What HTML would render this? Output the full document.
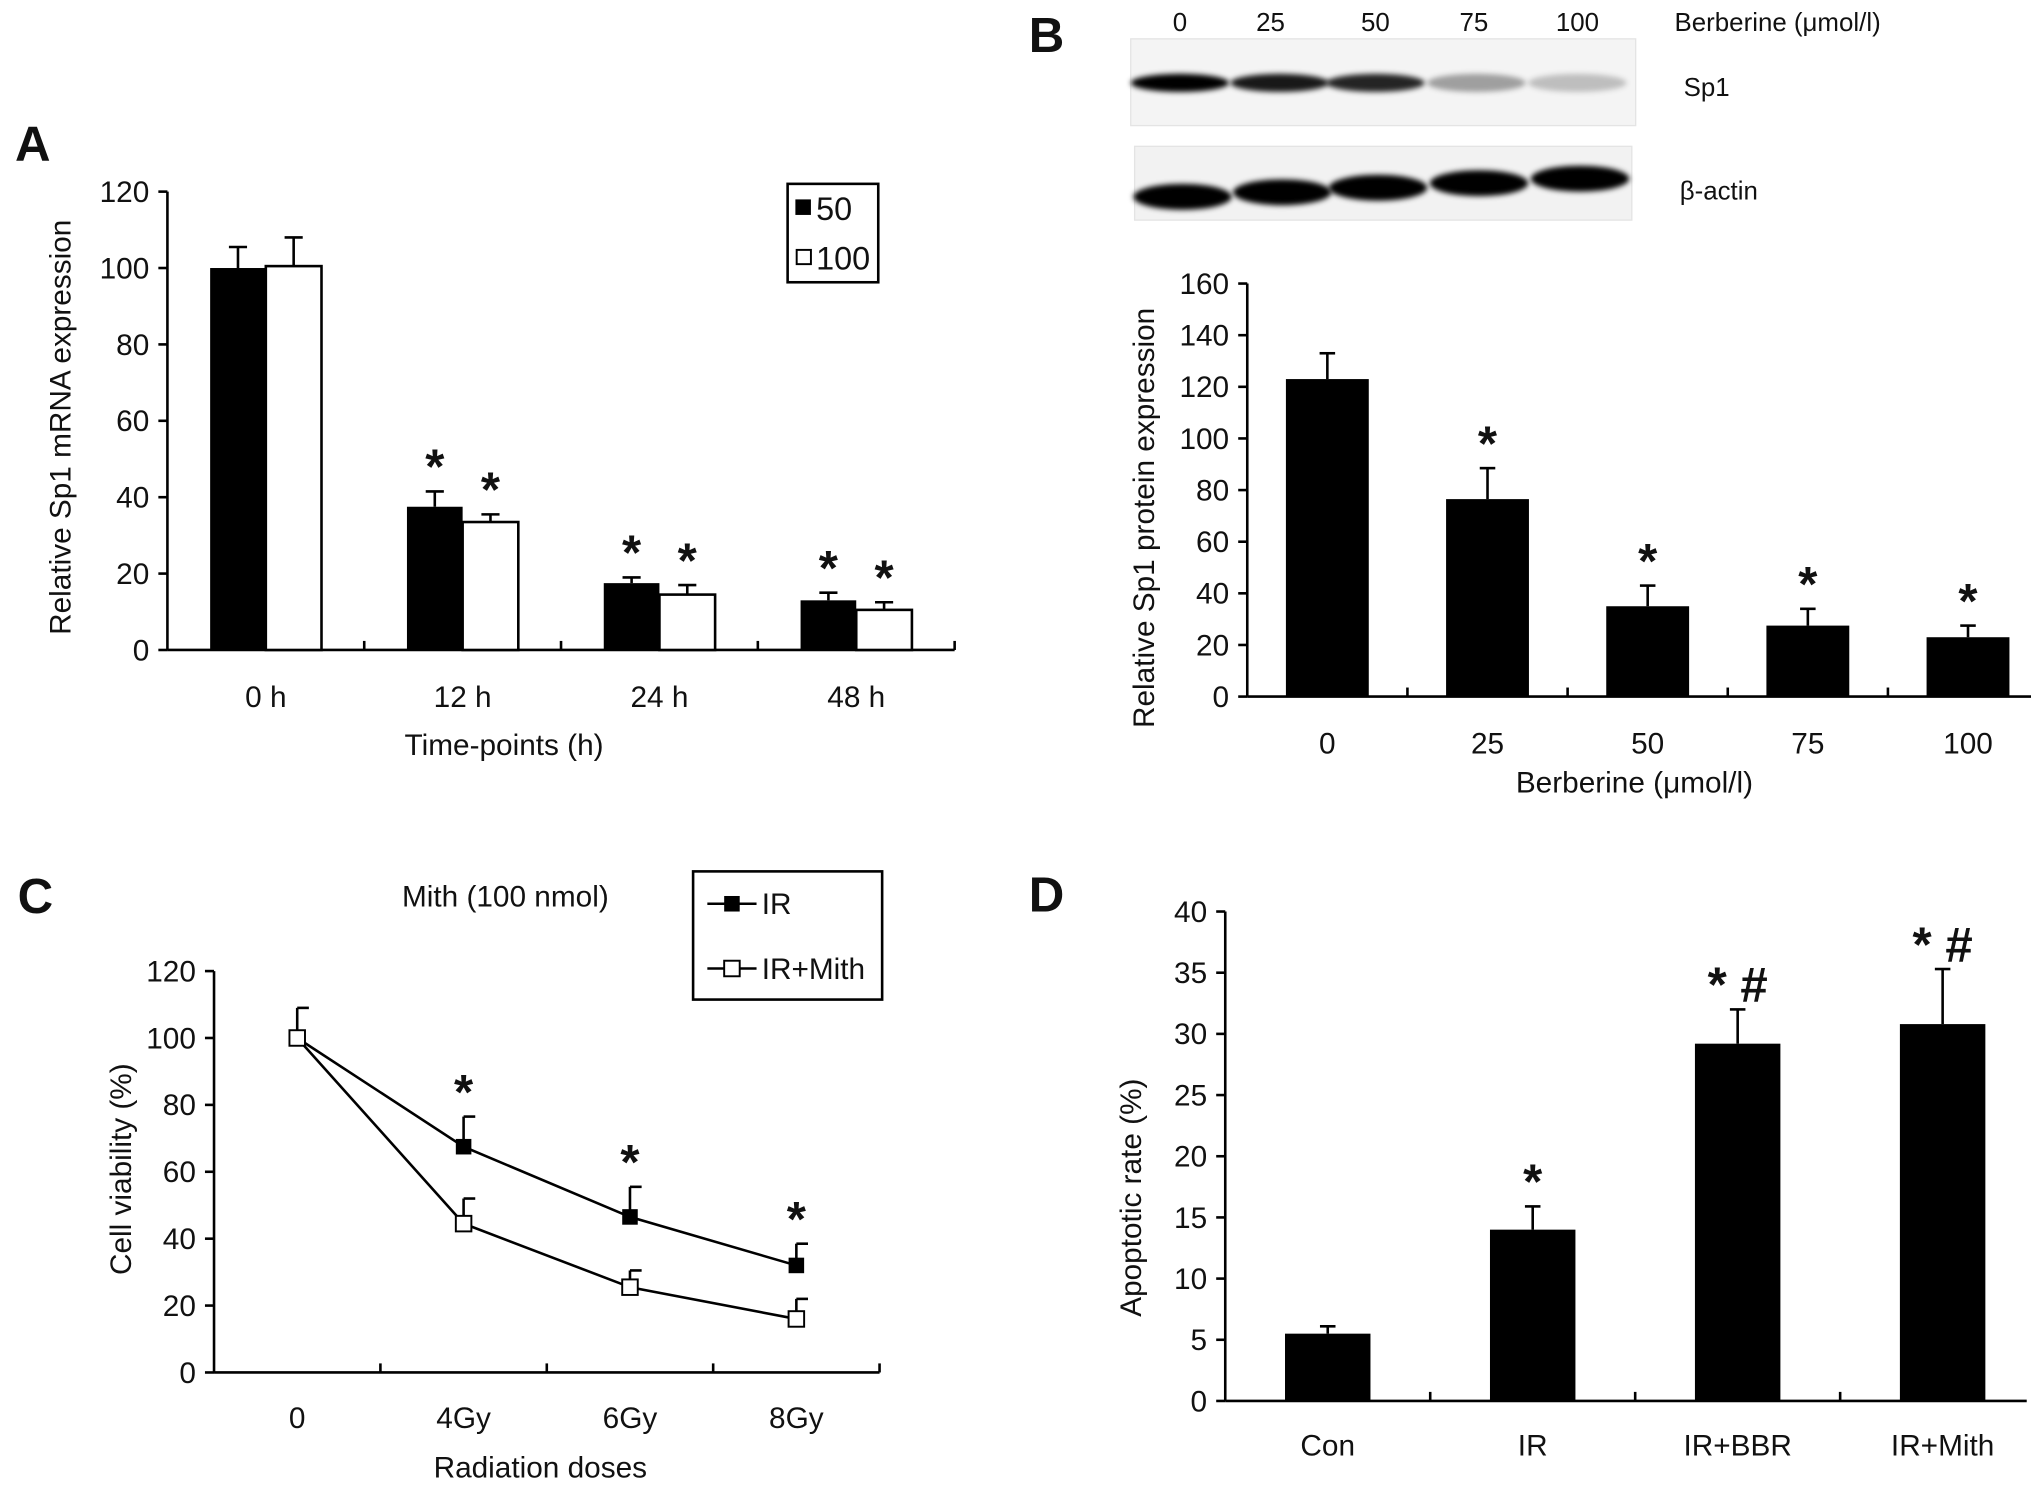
<!DOCTYPE html>
<html><head><meta charset="utf-8"><style>
html,body{margin:0;padding:0;background:#fff}
svg{display:block}
text{font-family:"Liberation Sans",sans-serif;fill:#111}
</style></head><body>
<svg id="fig" width="2031" height="1489" viewBox="0 0 1568 1150">
<defs><filter id="blur" x="-20%" y="-50%" width="140%" height="200%"><feGaussianBlur stdDeviation="2"/></filter></defs>
<g id="gA"></g>
<g id="gB"></g>
<g id="gC"></g>
<g id="gD"></g>
</svg>
<script>
// Panel A data
const catsA=["0  h","12  h","24  h","48  h"];
const valA50=[100,37.5,17.5,13];
const errA50=[5.5,4,1.5,2];
const valA100=[100.5,33.5,14.5,10.5];
const errA100=[7.5,2,2.5,2];
const ticksA=[0,20,40,60,80,100,120];
const sigA50=[false,true,true,true];
const sigA100=[false,true,true,true];
// Panel B data
const catsB=["0","25","50","75","100"];
const valB=[123,76.5,35,27.5,23];
const errB=[10,12,8,6.5,4.5];
const ticksB=[0,20,40,60,80,100,120,140,160];
const sigB=[false,true,true,true,true];
// Panel C data
const catsC=["0","4Gy","6Gy","8Gy"];
const valIR=[100,67.5,46.5,32];
const errIR=[9,9,9,6.5];
const valMith=[100,44.5,25.5,16];
const errMith=[0,7.5,5,6];
const ticksC=[0,20,40,60,80,100,120];
const sigC=[false,true,true,true];
// Panel D data
const catsD=["Con","IR","IR+BBR","IR+Mith"];
const valD=[5.5,14,29.2,30.8];
const errD=[0.6,1.9,2.8,4.5];
const ticksD=[0,5,10,15,20,25,30,35,40];
const sigD=["","*","*  #","*  #"];

const NS="http://www.w3.org/2000/svg";
const FS=23;
function el(p,tag,attrs,txt){const e=document.createElementNS(NS,tag);for(const k in attrs)e.setAttribute(k,attrs[k]);if(txt!==undefined)e.textContent=txt;p.appendChild(e);return e;}
function line(p,x1,y1,x2,y2,w){return el(p,'line',{x1,y1,x2,y2,stroke:'#000','stroke-width':w||2});}
function txt(p,x,y,s,size,anchor,extra){const a=Object.assign({x,y,'font-size':size,'text-anchor':anchor||'middle'},extra||{});return el(p,'text',a,s);}
function star(g,x,y,s){const t=txt(g,x,y-6,s||'*',38,'middle',{'font-weight':'bold','xml:space':'preserve'});return t;}

function axes(g,x0,y0,xEnd,yTop,ticks,yOf,nCat,step,name){
  const ax=line(g,x0,y0,xEnd,y0);
  
  
  const ay=line(g,x0,y0,x0,yTop);
  
  
  ticks.forEach(t=>{const y=yOf(t);line(g,x0-7,y,x0,y);
    const l=txt(g,x0-14,y+8,String(t),FS,'end');
    
    });
  for(let i=1;i<=nCat;i++){const x=x0+i*step;line(g,x,y0,x,y0-7);}
}

// ---------- Panel A ----------
(function(){
const g=document.getElementById('gA');
const x0=129,y0=502,yTop=148,step=152,max=120;
const y=v=>y0-(v/max)*(y0-yTop);
const lab=txt(g,25,124,'A',38,'middle',{'font-weight':'bold'});

axes(g,x0,y0,x0+step*catsA.length,yTop,ticksA,y,catsA.length,step,'a');
const bw=43;
catsA.forEach((c,i)=>{const cx=x0+step*(i+0.5);
  const b1=el(g,'rect',{x:cx-bw,y:y(valA50[i]),width:bw,height:y0-y(valA50[i]),fill:'#000'});
  
  line(g,cx-bw/2,y(valA50[i]),cx-bw/2,y(valA50[i]+errA50[i]));line(g,cx-bw/2-7,y(valA50[i]+errA50[i]),cx-bw/2+7,y(valA50[i]+errA50[i]));
  const b2=el(g,'rect',{x:cx,y:y(valA100[i]),width:bw,height:y0-y(valA100[i]),fill:'#fff',stroke:'#000','stroke-width':2});
  
  line(g,cx+bw/2,y(valA100[i]),cx+bw/2,y(valA100[i]+errA100[i]));line(g,cx+bw/2-7,y(valA100[i]+errA100[i]),cx+bw/2+7,y(valA100[i]+errA100[i]));
  if(sigA50[i])star(g,cx-bw/2,y(valA50[i]+errA50[i]));
  if(sigA100[i])star(g,cx+bw/2,y(valA100[i]+errA100[i]));
  const t=txt(g,cx,546,c,FS,'middle',{'xml:space':'preserve'});
});
const xt=txt(g,389,583,'Time-points (h)',FS);
const yt=txt(g,0,0,'Relative Sp1 mRNA expression',FS,'middle',{transform:'translate(54,330) rotate(-90)'});

const lg=el(g,'g',{});
el(lg,'rect',{x:608,y:142,width:70,height:76,fill:'#fff',stroke:'#000','stroke-width':2});
el(lg,'rect',{x:614,y:154,width:12,height:12,fill:'#000'});
txt(lg,630,170,'50',25,'start');
el(lg,'rect',{x:615,y:193,width:11,height:11,fill:'#fff',stroke:'#000','stroke-width':1.5});
txt(lg,630,208,'100',25,'start');
})();

// ---------- Panel B ----------
(function(){
const g=document.getElementById('gB');
const x0=963,y0=538,yTop=219,step=123.7,max=160;
const y=v=>y0-(v/max)*(y0-yTop);
const lab=txt(g,808,40,'B',38,'middle',{'font-weight':'bold'});

const blot=el(g,'g',{});
el(blot,'rect',{x:873,y:30,width:390,height:67,fill:'#f4f4f4',stroke:'#e4e4e4'});
el(blot,'rect',{x:876,y:113,width:384,height:57,fill:'#f2f2f2',stroke:'#e4e4e4'});
const sp1Int=[1,0.9,0.85,0.35,0.22];
const bx=[911,988,1062,1140,1218];
bx.forEach((x,i)=>{el(blot,'ellipse',{cx:x,cy:64,rx:38,ry:7,fill:'#000','fill-opacity':sp1Int[i],filter:'url(#blur)'});
  el(blot,'ellipse',{cx:x+2,cy:152-i*3.5,rx:38,ry:10,fill:'#000',filter:'url(#blur)'});});
catsB.forEach((c,i)=>{txt(g,[911,981,1062,1138,1218][i],24,c,20);});
txt(g,1293,24,'Berberine (μmol/l)',20,'start');
txt(g,1300,74,'Sp1',20,'start');
txt(g,1297,154,'β-actin',20,'start');
axes(g,x0,y0,x0+step*catsB.length,yTop,ticksB,y,catsB.length,step,'b');
const bw=64;
catsB.forEach((c,i)=>{const cx=x0+step*(i+0.5);
  const b=el(g,'rect',{x:cx-bw/2,y:y(valB[i]),width:bw,height:y0-y(valB[i]),fill:'#000'});
  
  line(g,cx,y(valB[i]),cx,y(valB[i]+errB[i]));line(g,cx-6,y(valB[i]+errB[i]),cx+6,y(valB[i]+errB[i]));
  if(sigB[i])star(g,cx,y(valB[i]+errB[i]));
  const t=txt(g,cx,582,c,FS);
});
const xt=txt(g,1262,612,'Berberine (μmol/l)',FS);
const yt=txt(g,0,0,'Relative Sp1 protein expression',FS,'middle',{transform:'translate(891,400) rotate(-90)'});

})();

// ---------- Panel C ----------
(function(){
const g=document.getElementById('gC');
const x0=165,y0=1060,yTop=750,step=128.5,max=120;
const y=v=>y0-(v/max)*(y0-yTop);
const lab=txt(g,27,705,'C',38,'middle',{'font-weight':'bold'});

axes(g,x0,y0,x0+step*catsC.length,yTop,ticksC,y,catsC.length,step,'c');
const X=i=>x0+step*(i+0.5);
catsC.forEach((c,i)=>{
  if(errIR[i]>0){line(g,X(i),y(valIR[i]),X(i),y(valIR[i]+errIR[i]));line(g,X(i),y(valIR[i]+errIR[i]),X(i)+9,y(valIR[i]+errIR[i]));}
  if(errMith[i]>0){line(g,X(i),y(valMith[i]),X(i),y(valMith[i]+errMith[i]));line(g,X(i),y(valMith[i]+errMith[i]),X(i)+9,y(valMith[i]+errMith[i]));}
});
const l1=el(g,'polyline',{points:valIR.map((v,i)=>X(i)+','+y(v)).join(' '),fill:'none',stroke:'#000','stroke-width':2});

const l2=el(g,'polyline',{points:valMith.map((v,i)=>X(i)+','+y(v)).join(' '),fill:'none',stroke:'#000','stroke-width':2});

catsC.forEach((c,i)=>{
  const p1=el(g,'rect',{x:X(i)-6,y:y(valIR[i])-6,width:12,height:12,fill:'#000'});
  
  const p2=el(g,'rect',{x:X(i)-6,y:y(valMith[i])-6,width:12,height:12,fill:'#fff',stroke:'#000','stroke-width':1.5});
  
  if(sigC[i])star(g,X(i),y(valIR[i]+errIR[i]));
  const t=txt(g,X(i),1103,c,FS);
});
const ti=txt(g,390,700,'Mith (100 nmol)',FS);
const xt=txt(g,417,1141,'Radiation doses',FS);
const yt=txt(g,0,0,'Cell viability (%)',FS,'middle',{transform:'translate(101,903) rotate(-90)'});

const lg=el(g,'g',{});
el(lg,'rect',{x:535,y:673,width:146,height:99,fill:'#fff',stroke:'#000','stroke-width':2});
line(lg,546,698,584,698);el(lg,'rect',{x:559,y:692,width:12,height:12,fill:'#000'});
txt(lg,588,706,'IR',FS,'start');
line(lg,546,748,584,748);el(lg,'rect',{x:559,y:742,width:12,height:12,fill:'#fff',stroke:'#000','stroke-width':1.5});
txt(lg,588,756,'IR+Mith',FS,'start');
})();

// ---------- Panel D ----------
(function(){
const g=document.getElementById('gD');
const x0=946,y0=1082,yTop=704,step=158.3,max=40;
const y=v=>y0-(v/max)*(y0-yTop);
const lab=txt(g,808,704,'D',38,'middle',{'font-weight':'bold'});

axes(g,x0,y0,1565,yTop,ticksD,y,3,step,'d');
const bw=66;
catsD.forEach((c,i)=>{const cx=x0+step*(i+0.5);
  const b=el(g,'rect',{x:cx-bw/2,y:y(valD[i]),width:bw,height:y0-y(valD[i]),fill:'#000'});
  
  line(g,cx,y(valD[i]),cx,y(valD[i]+errD[i]));line(g,cx-6,y(valD[i]+errD[i]),cx+6,y(valD[i]+errD[i]));
  if(sigD[i])star(g,cx,y(valD[i]+errD[i]),sigD[i]);
  const t=txt(g,cx,1124,c,FS);
});
const yt=txt(g,0,0,'Apoptotic rate (%)',FS,'middle',{transform:'translate(881,925) rotate(-90)'});

})();
</script>
</body></html>
